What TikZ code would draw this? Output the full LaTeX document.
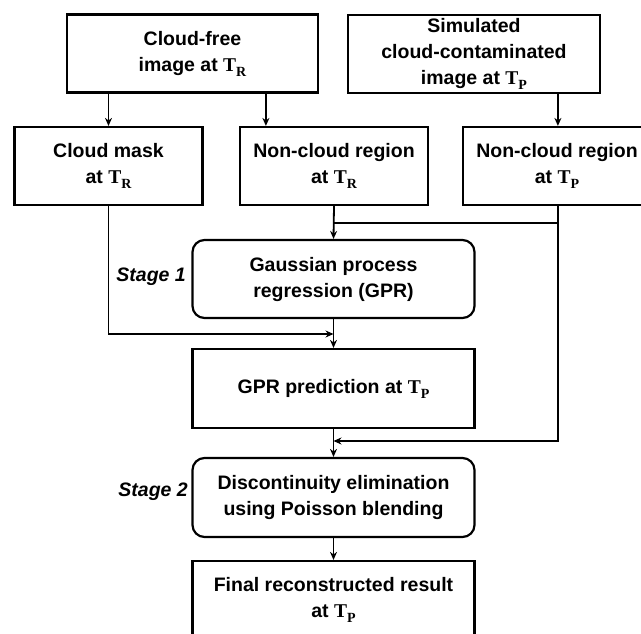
\documentclass[tikz,border=0pt]{standalone}
\usepackage{fontspec}
\setmainfont{Liberation Sans}
\newfontfamily\serifT{Liberation Serif}
\usetikzlibrary{arrows.meta}
\newcommand{\Tsub}[1]{{\serifT T\raisebox{-0.25em}{\fontsize{14}{14}\selectfont #1}}}
\tikzset{
  box/.style={draw, line width=2.2pt, rectangle, align=center, inner sep=0pt,
    font=\fontsize{19.5}{26}\selectfont\bfseries},
  rbox/.style={box, rounded corners=12pt},
  arr/.style={line width=1.8pt, -{Stealth[length=8pt,width=7pt]}},
  ln/.style={line width=1.8pt},
  stage/.style={font=\fontsize{19.5}{26}\selectfont\bfseries\itshape, anchor=east, inner sep=0pt}
}
\begin{document}
\begin{tikzpicture}[x=1pt,y=-1pt]
\useasboundingbox (0,0) rectangle (641,633);
\node[box, minimum width=251pt, minimum height=78pt] (A) at (192.5,53.5) {Cloud-free\\image at \Tsub{R}};
\node[box, minimum width=252pt, minimum height=78pt] (B) at (474,54) {Simulated\\cloud-contaminated\\image at \Tsub{P}};
\node[box, minimum width=188pt, minimum height=78pt] (C) at (108.5,166) {Cloud mask\\at \Tsub{R}};
\node[box, minimum width=188pt, minimum height=78pt] (D) at (334,166) {Non-cloud region\\at \Tsub{R}};
\node[box, minimum width=188pt, minimum height=78pt] (E) at (557,166) {Non-cloud region\\at \Tsub{P}};
\node[rbox, minimum width=282pt, minimum height=78pt] (G) at (333.5,279) {Gaussian process\\regression (GPR)};
\node[box, minimum width=282pt, minimum height=79pt] (P) at (333.5,388.5) {GPR prediction at \Tsub{P}};
\node[rbox, minimum width=282pt, minimum height=79pt] (S) at (333.5,497.5) {Discontinuity elimination\\using Poisson blending};
\node[box, minimum width=282pt, minimum height=78pt] (F) at (333.5,600) {Final reconstructed result\\at \Tsub{P}};
\node[stage] (s1) at (186,277) {Stage 1};
\node[stage] (s2) at (188,492) {Stage 2};
\coordinate (dIn) at ([xshift=27pt]D.north west);
\coordinate (eIn) at ([xshift=96pt]E.north west);
\coordinate (j1) at (333.5,223);
\coordinate (j2) at (333.5,334);
\coordinate (j3) at (333.5,441);
\draw[arr] (A.south -| C.north) -- (C.north);
\draw[arr] (A.south -| dIn) -- (dIn);
\draw[arr] (B.south -| eIn) -- (eIn);
\draw[arr] (D.south) -- (G.north);
\draw[ln] (E.south -| eIn) |- (j1);
\draw[arr] (C.south) |- (j2);
\draw[arr] (G.south) -- (P.north);
\draw[arr] (E.south -| eIn) |- (j3);
\draw[arr] (P.south) -- (S.north);
\draw[arr] (S.south) -- (F.north);
\end{tikzpicture}
\end{document}
